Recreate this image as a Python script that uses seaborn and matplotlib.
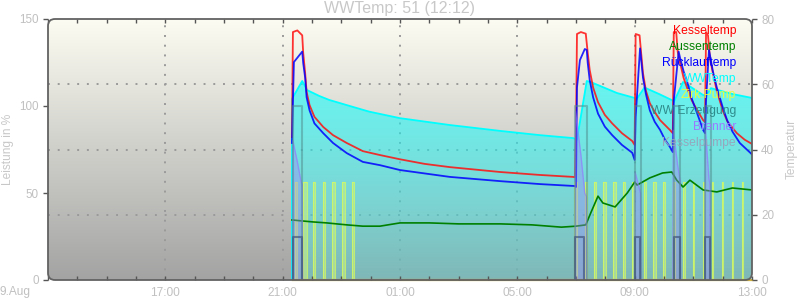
import numpy as np
import matplotlib
matplotlib.use("Agg")
import matplotlib.pyplot as plt
import seaborn as sns
from matplotlib.patches import FancyBboxPatch

# ---------------- data (clock times, 9 Aug 13:00 -> 10 Aug 13:00) ----------------
kessel_t = ["21:19", "21:21", "21:30", "21:40", "21:42", "21:46", "21:49", "21:55", "22:05", "22:23",
            "22:43", "23:11", "23:44", "00:19", "01:00", "01:50", "02:42", "04:25", "05:46", "06:54",
            "06:58", "07:00", "07:02", "07:10", "07:20", "07:24", "07:28", "07:35", "07:45", "07:59",
            "08:14", "08:34", "08:55", "09:00", "09:02", "09:10", "09:13", "09:17", "09:23", "09:31",
            "09:41", "09:52", "10:02", "10:12", "10:18", "10:20", "10:25", "10:28", "10:33", "10:40",
            "10:47", "10:57", "11:08", "11:20", "11:24", "11:26", "11:30", "11:34", "11:40", "11:48",
            "12:00", "12:10", "12:29", "12:45", "13:00"]
kessel_v = [43.8, 76, 76.5, 75, 69.6, 63.4, 57.6, 53.6, 50, 46.9,
            44.4, 42, 39.5, 38.3, 37, 35.6, 34.6, 33.1, 32.2, 31.6,
            31.5, 45, 75.4, 76, 75.5, 69.6, 64.4, 59, 54.5, 50.6,
            48, 45, 42.6, 41.4, 75.4, 75, 70, 63.4, 58, 54.2,
            51.5, 49, 47.5, 46, 45, 76, 76, 70, 66.5, 62,
            59, 55, 52, 49, 48.4, 76, 75, 68, 63.4, 58,
            52, 48.5, 45, 43, 41.7]

ruecklauf_t = ["21:19", "21:23", "21:40", "21:42", "21:46", "21:49", "21:55", "22:05", "22:23", "22:43",
               "23:11", "23:44", "00:19", "01:00", "02:42", "04:25", "05:46", "06:58", "07:00", "07:02",
               "07:08", "07:18", "07:22", "07:24", "07:28", "07:35", "07:45", "07:59", "08:14", "08:34",
               "08:55", "09:00", "09:02", "09:11", "09:17", "09:23", "09:31", "09:41", "09:52", "10:02",
               "10:12", "10:18", "10:20", "10:30", "10:33", "10:40", "10:47", "10:57", "11:08", "11:20",
               "11:24", "11:26", "11:32", "11:40", "11:48", "12:00", "12:09", "12:20", "12:35", "13:00"]
ruecklauf_v = [42, 66.8, 70, 66.5, 62, 56, 52, 48, 45, 42,
               38.9, 36.2, 35.2, 33.7, 31.6, 30.3, 29.4, 28.8, 28.5, 59,
               67.4, 70.8, 70.5, 66.5, 61.3, 56, 51, 47, 44.4, 41.4,
               39, 36.8, 50, 71, 62, 57, 52, 48.5, 46, 43,
               40.8, 39.2, 55, 70, 68, 64, 61, 55.5, 51, 46,
               45, 55, 70.5, 64, 59, 53, 49, 45.5, 42, 38.5]

aussen_t = ["21:19", "21:40", "22:02", "22:30", "23:11", "23:44", "00:19", "01:00", "02:00", "03:00",
            "04:25", "05:30", "06:30", "07:00", "07:20", "07:30", "07:45", "07:55", "08:20", "08:45",
            "09:00", "09:05", "09:31", "09:57", "10:16", "10:26", "10:39", "10:53", "11:20", "11:48",
            "12:20", "13:00"]
aussen_v = [18.4, 18.1, 17.8, 17.5, 16.9, 16.5, 16.5, 17.5, 17.5, 17.2,
            17.2, 16.9, 16.2, 16.5, 16.9, 20.5, 25.7, 23.6, 22.4, 26.7,
            30, 29.1, 31.3, 32.8, 33.1, 30.6, 28.5, 30.6, 27.6, 27,
            28.2, 27.6]

wwtemp_t = ["21:19", "21:40", "21:50", "22:15", "22:35", "23:18", "23:57", "01:00", "02:42", "04:25",
            "05:46", "06:54", "07:02", "07:22", "07:33", "08:24", "09:00", "09:02", "09:20", "09:50",
            "10:18", "10:20", "10:39", "11:20", "11:26", "11:36", "12:20", "13:00"]
wwtemp_v = [55.5, 61, 58.2, 56.4, 55.2, 53.3, 51.6, 49.6, 47.5, 45.7,
            44.4, 43.5, 43, 61, 60.5, 57.3, 55.8, 55, 59, 57,
            55, 54.5, 60.7, 56.7, 56.5, 58.8, 57, 55.8]

zirk_on = ["21:25", "21:41", "22:02", "22:23", "22:41", "23:01", "23:22",
           "06:56", "07:18", "07:37", "07:55", "08:16", "08:36", "08:55", "09:19", "09:38",
           "09:58", "10:18", "10:39", "10:59", "11:20", "11:38", "11:58", "12:19", "12:39"]
zirk_off = ["21:29", "21:50", "22:06", "22:27", "22:47", "23:07", "23:26",
            "07:02", "07:22", "07:41", "08:01", "08:22", "08:40", "08:59", "09:23", "09:44",
            "10:02", "10:23", "10:43", "11:01", "11:22", "11:40", "12:00", "12:21", "12:41"]
zirk_level = 30

brenner_t = ["21:20", "21:21", "21:30", "21:38", "21:40", "21:41",
             "06:58", "06:59", "07:10", "07:18", "07:21", "07:22",
             "09:00", "09:01", "09:10", "09:12", "09:13",
             "10:18", "10:19", "10:28", "10:33", "10:34",
             "11:24", "11:25", "11:32", "11:34", "11:35"]
brenner_v = [0, 80, 68, 56, 55, 0,
             0, 97, 72, 50, 48, 0,
             0, 62, 52, 50, 0,
             0, 86, 66, 57, 0,
             0, 86, 58, 55, 0]

wwerz_on = ["21:21", "06:58", "09:00", "10:20", "11:24"]
wwerz_off = ["21:40", "07:22", "09:13", "10:33", "11:36"]
wwerz_level = 100

kpumpe_on = ["21:21", "06:58", "09:00", "10:20", "11:24"]
kpumpe_off = ["21:40", "07:16", "09:10", "10:33", "11:34"]
kpumpe_level = 25

x_tick_pos = [17, 21, 25, 29, 33, 37]
x_tick_labels = ["17:00", "21:00", "01:00", "05:00", "09:00", "13:00"]
left_ticks = [0, 50, 100, 150]
right_ticks = [0, 20, 40, 60, 80]

legend_labels = ["Kesseltemp", "Aussentemp", "Rücklauftemp", "WWTemp", "Zirk.Pump",
                 "WW Erzeugung", "Brenner", "Kesselpumpe"]
legend_colors = ["#ff0000", "#008000", "#0000ff", "#00ffff", "#e6ff40",
                 "#2f8c8c", "#9a7bff", "#95a7bd"]


def hrs(s):
    h, m = map(int, s.split(":"))
    v = h + m / 60.0
    return v + 24 if v < 20 else v


def H(lst):
    return np.array([hrs(s) for s in lst])


# ---------------- figure ----------------
plt.rcParams["font.family"] = ["Liberation Sans", "DejaVu Sans"]
fig = plt.figure(figsize=(8, 3), dpi=100)
ax = fig.add_axes([48 / 800, 20 / 300, 704 / 800, 261 / 300])
ax2 = ax.twinx()
ax.set_zorder(ax2.get_zorder() + 1)
ax.patch.set_visible(False)
ax2.patch.set_visible(False)
for a in (ax, ax2):
    for sp in a.spines.values():
        sp.set_visible(False)

aspect = 704 / 261
clip = FancyBboxPatch((0, 0), 1, 1, boxstyle="round,pad=0,rounding_size=0.01",
                      mutation_aspect=aspect, transform=ax2.transAxes,
                      facecolor="none", edgecolor="none")

# background gradient
top = np.array([252, 252, 242]) / 255
bot = np.array([163, 163, 163]) / 255
tt = np.linspace(0, 1, 256)[:, None, None]
bgimg = top * (1 - tt) + bot * tt
bg = ax2.imshow(bgimg, extent=[0, 1, 0, 1], transform=ax2.transAxes, aspect="auto",
                zorder=0, interpolation="bilinear")
bg.set_clip_path(clip)

# grid
for xv in [17, 21, 25, 29, 33]:
    ax2.axvline(xv, color="#9a9a9a", ls=(0, (1, 4)), lw=1.4, zorder=1)
for yv in [20, 40, 60]:
    ax2.axhline(yv, color="#9a9a9a", ls=(0, (1, 4)), lw=1.4, zorder=1)

# WWTemp area with vertical alpha gradient
wx, wy = H(wwtemp_t), np.array(wwtemp_v)
poly = ax2.fill_between(wx, 0, wy, facecolor="none", edgecolor="none")
vv = np.linspace(0, 80, 200)
alpha = np.clip(0.22 + 0.34 * vv / 61, 0, 0.6)
cyimg = np.zeros((200, 1, 4))
cyimg[:, 0, 1] = 1
cyimg[:, 0, 2] = 1
cyimg[:, 0, 3] = alpha
cy = ax2.imshow(cyimg, extent=[13, 37, 0, 80], origin="lower", aspect="auto",
                zorder=2, interpolation="bilinear")
cy.set_clip_path(poly.get_paths()[0], transform=ax2.transData)
sns.lineplot(x=np.r_[wx[0], wx], y=np.r_[0, wy], ax=ax2, color="#00ffff", lw=1.3,
             sort=False, estimator=None, zorder=2.5)

# Zirk.Pump pulses
zon, zoff = H(zirk_on), H(zirk_off)
for a0, a1 in zip(zon, zoff):
    ax2.fill_between([a0, a1], 0, zirk_level, color="#c4f088", alpha=0.6, lw=0, zorder=3)
    ax2.plot([a0, a0, a1, a1], [0, zirk_level, zirk_level, 0], color="#dcff55",
             alpha=0.7, lw=0.8, zorder=3)
ax2.plot([hrs("21:21"), 37], [0, 0], color="#d0b040", lw=1.6, zorder=3, clip_on=False)

# temperature lines
sns.lineplot(x=H(aussen_t), y=aussen_v, ax=ax2, color="#008000", lw=1.2,
             sort=False, estimator=None, zorder=4)
sns.lineplot(x=H(kessel_t), y=kessel_v, ax=ax2, color="#ff1010", lw=1.3, alpha=0.85,
             sort=False, estimator=None, zorder=4)
sns.lineplot(x=H(ruecklauf_t), y=ruecklauf_v, ax=ax2, color="#0000ff", lw=1.3, alpha=0.85,
             sort=False, estimator=None, zorder=4)

# Leistung series (left axis)
bx, by = H(brenner_t), np.array(brenner_v)
ax.fill_between(bx, 0, by, color="#a080ff", alpha=0.35, lw=0, zorder=5)
ax.plot(bx, by, color="#9370ff", alpha=0.55, lw=1.0, zorder=5)
for a0, a1 in zip(H(wwerz_on), H(wwerz_off)):
    ax.plot([a0, a0, a1, a1], [0, wwerz_level, wwerz_level, 0], color="#508c8c",
            alpha=0.5, lw=1.5, zorder=6)
for a0, a1 in zip(H(kpumpe_on), H(kpumpe_off)):
    ax.plot([a0, a0, a1, a1], [0, kpumpe_level, kpumpe_level, 0], color="#3c5078",
            alpha=0.65, lw=1.5, zorder=6)

# frame
frame = FancyBboxPatch((0, 0), 1, 1, boxstyle="round,pad=0,rounding_size=0.01",
                       mutation_aspect=aspect, transform=ax.transAxes,
                       facecolor="none", edgecolor="#626262", lw=1.3, zorder=10, clip_on=False)
ax.add_artist(frame)

# axes, ticks
ax.set_xlim(13, 37)
ax.set_ylim(0, 150)
ax2.set_ylim(0, 80)
ax.set_xticks(x_tick_pos, labels=x_tick_labels)
ax.set_xticks(np.arange(13, 38), minor=True)
ax.tick_params(axis="x", which="both", direction="in", length=3, width=1, top=True,
               bottom=True, color="#555555", labelcolor="#c0c0c0", labelsize=8.6, pad=5)
ax.set_yticks(left_ticks)
ax.tick_params(axis="y", direction="out", length=3.6, width=1, color="#555555",
               labelcolor="#c0c0c0", labelsize=8.4, pad=3)
ax2.set_yticks(right_ticks)
ax2.tick_params(axis="y", direction="out", length=3.6, width=1, color="#555555",
                labelcolor="#c0c0c0", labelsize=8.4, pad=3)
ax.set_xlabel("")
ax.set_ylabel("")
ax2.set_ylabel("")

# texts
fig.text(0.5, 1 - 9 / 300, "WWTemp: 51 (12:12)", ha="center", va="center",
         fontsize=11.5, color="#c8c8c8")
fig.text(0, 1 - 292 / 300, "9.Aug", ha="left", va="center", fontsize=8.6, color="#c0c0c0")
fig.text(8 / 800, 1 - 149 / 300, "Leistung in %", rotation=90, ha="center", va="center",
         fontsize=8.6, color="#c8c8c8")
fig.text(792 / 800, 1 - 149 / 300, "Temperatur", rotation=90, ha="center", va="center",
         fontsize=8.6, color="#c8c8c8")
for i, (lab, col) in enumerate(zip(legend_labels, legend_colors)):
    fig.text(736 / 800, 1 - (31 + 16 * i) / 300, lab, ha="right", va="center",
             fontsize=8.7, color=col)

fig.savefig("out.png", dpi=100)
